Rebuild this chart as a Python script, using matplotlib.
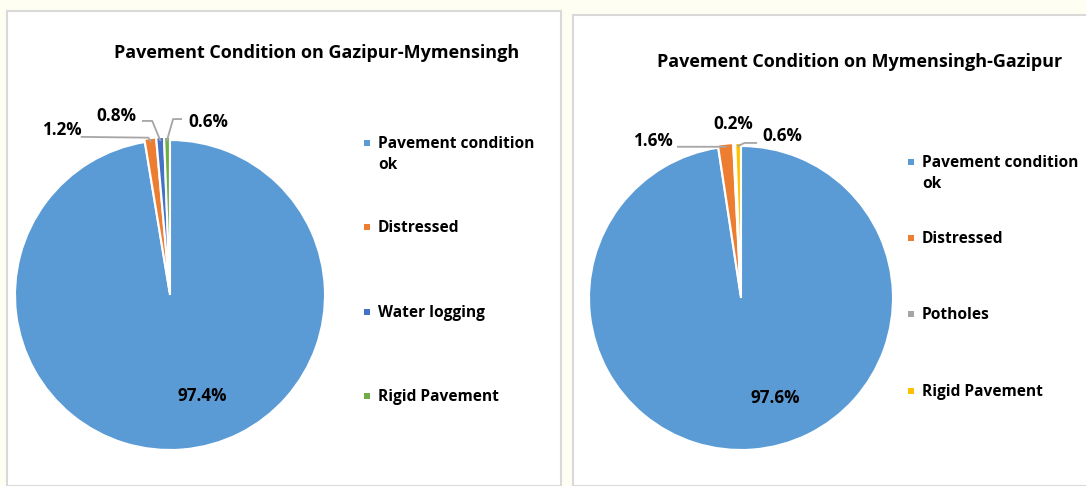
import numpy as np
import matplotlib.pyplot as plt
from matplotlib.patches import Rectangle

plt.rcParams['font.family'] = ['Open Sans', 'DejaVu Sans']
plt.rcParams['font.weight'] = 'bold'

# data
titles = ['Pavement Condition on Gazipur-Mymensingh',
          'Pavement Condition on Mymensingh-Gazipur']
labels_left = ['Pavement condition\nok', 'Distressed', 'Water logging', 'Rigid Pavement']
labels_right = ['Pavement condition\nok', 'Distressed', 'Potholes', 'Rigid Pavement']
values_left = [97.4, 1.2, 0.8, 0.6]
values_right = [97.6, 1.6, 0.2, 0.6]
colors_left = ['#5B9BD5', '#ED7D31', '#4472C4', '#70AD47']
colors_right = ['#5B9BD5', '#ED7D31', '#A5A5A5', '#FFC000']

W, H = 1086, 486
fig = plt.figure(figsize=(W / 100, H / 100), dpi=100)
fig.patch.set_facecolor('#FFFEF3')

# panel frames
for x0, y0, x1 in [(7, 11, 561), (573, 15, 1090)]:
    fig.add_artist(Rectangle((x0 / W, 0), (x1 - x0) / W, 1 - y0 / H,
                             transform=fig.transFigure, facecolor='white',
                             edgecolor='#D9D9D9', linewidth=1.5, zorder=0))

panels = [
    dict(values=values_left, labels=labels_left, colors=colors_left, title=titles[0],
         cx=170, cy=295, r=155, title_xy=(317, 53),
         big=(0.21, -0.65),
         small_lbl=[(-0.70, 1.065), (-0.345, 1.155), (0.245, 1.116)],
         small_elbow=[(-0.57, 1.02, -0.14, 1.015), (-0.175, 1.123, -0.115, 1.123),
                      (0.072, 1.135, 0.02, 1.135)],
         leg_x=367, leg_y=[143, 227, 312, 396]),
    dict(values=values_right, labels=labels_right, colors=colors_right, title=titles[1],
         cx=741, cy=298, r=152, title_xy=(860, 62),
         big=(0.225, -0.66),
         small_lbl=[(-0.58, 1.033), (-0.05, 1.145), (0.27, 1.066)],
         small_elbow=[(-0.415, 0.995, -0.12, 0.995), None,
                      (0.10, 1.02, 0.022, 1.02)],
         leg_x=911, leg_y=[162, 238, 314, 391]),
]

for p in panels:
    cx, cy, r = p['cx'], p['cy'], p['r']
    ax = fig.add_axes([(cx - r) / W, (H - cy - r) / H, 2 * r / W, 2 * r / H])
    explode = [0, 0.02, 0.02, 0.02]
    wedges, _ = ax.pie(p['values'], colors=p['colors'], startangle=90,
                       counterclock=False, explode=explode,
                       wedgeprops=dict(edgecolor='white', linewidth=1.5))
    ax.set_xlim(-1, 1)
    ax.set_ylim(-1, 1)
    ax.set_aspect('auto')
    ax.axis('off')

    # big slice label
    ax.text(p['big'][0], p['big'][1], f"{p['values'][0]:.1f}%", ha='center', va='center',
            fontsize=12.3, fontweight='bold', color='black')

    # small slice labels with leader lines
    for i, w in enumerate(wedges[1:]):
        lx, ly = p['small_lbl'][i]
        ax.text(lx, ly, f"{p['values'][i + 1]:.1f}%", ha='center', va='center',
                fontsize=12.3, fontweight='bold', color='black', clip_on=False)
        el = p['small_elbow'][i]
        if el is None:
            continue
        ang = np.deg2rad((w.theta1 + w.theta2) / 2)
        ax_, ay_ = 1.0 * np.cos(ang), 1.0 * np.sin(ang)
        ax.plot([el[0], el[2], ax_], [el[1], el[3], ay_], color='#A6A6A6',
                linewidth=1.3, clip_on=False)

    # title
    fig.text(p['title_xy'][0] / W, 1 - p['title_xy'][1] / H, p['title'],
             ha='center', va='center', fontsize=13, fontweight='bold')

    # legend
    for lab, col, y in zip(p['labels'], p['colors'], p['leg_y']):
        fig.add_artist(Rectangle(((p['leg_x'] - 3) / W, 1 - (y + 3) / H), 6 / W, 6 / H,
                                 transform=fig.transFigure, facecolor=col,
                                 edgecolor='none'))
        fig.text((p['leg_x'] + 11) / W, 1 - (y - 7) / H, lab, ha='left', va='top',
                 fontsize=11.2, fontweight='bold', linespacing=1.4)

fig.savefig('out.png', dpi=100, facecolor=fig.get_facecolor())
